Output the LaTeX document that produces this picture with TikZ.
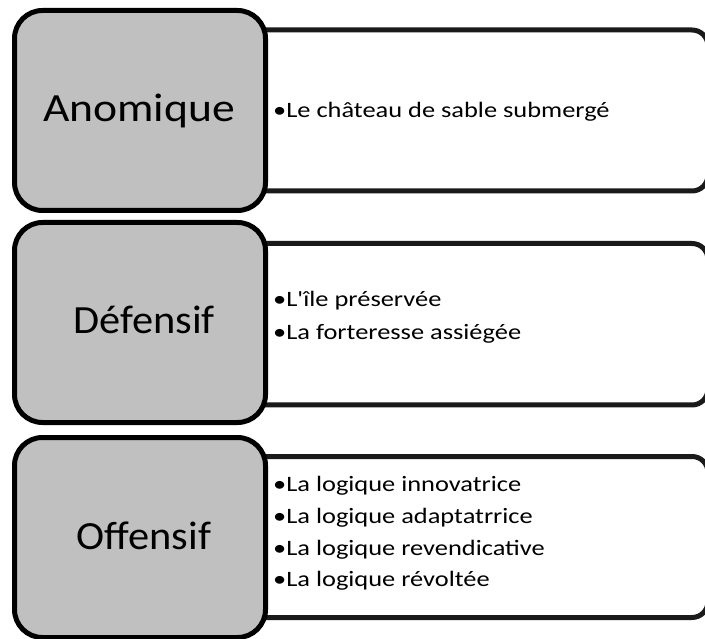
\documentclass[tikz,border=0pt]{standalone}
\usepackage{graphicx}
\usepackage{fontspec}
\setmainfont{Carlito}[Ligatures=TeXOff]
\definecolor{catgray}{HTML}{C0C0C0}
\definecolor{listline}{HTML}{1A1A1A}
\newcommand{\catlbl}[2][1.14]{\scalebox{#1}[1]{#2}}
\newcommand{\itm}[1]{\scalebox{1.2}[1]{#1}}
\begin{document}
\begin{tikzpicture}[x=1pt,y=-1pt,
  catbox/.style={draw=black, line width=5pt, fill=catgray, rounded corners=28pt,
    minimum width=251pt, minimum height=200pt, inner sep=0pt},
  catlabel/.style={anchor=base, inner sep=0pt, font=\fontsize{40}{40}\selectfont},
  listbox/.style={draw=listline, line width=5pt, fill=white, rounded corners=16pt,
    minimum width=468pt, inner sep=0pt},
  itemtext/.style={anchor=base west, inner sep=0pt, font=\fontsize{22}{22}\selectfont}
]
\useasboundingbox (0,0) rectangle (705,639);
% list boxes (behind)
\node[listbox, minimum height=161pt] (l1) at (474,110.5) {};
\node[listbox, minimum height=161.5pt] (l2) at (474,324.25) {};
\node[listbox, minimum height=161pt] (l3) at (474,537) {};
% category boxes
\node[catbox] (c1) at (140,110.5) {};
\node[catbox] (c2) at (140,322.5) {};
\node[catbox] (c3) at (140,537.5) {};
\node[catlabel] (t1) at (139,122) {\catlbl{Anomique}};
\node[catlabel] (t2) at (144,334) {\catlbl[1.06]{Défensif}};
\node[catlabel] (t3) at (144,549) {\catlbl[1.06]{Offensif}};
% items
\node[itemtext] (i11) at (273,118) {\itm{•Le château de sable submergé}};
\node[itemtext] (i21) at (273,307) {\itm{•L'île préservée}};
\node[itemtext] (i22) at (273,340) {\itm{•La forteresse assiégée}};
\node[itemtext] (i31) at (273,491) {\itm{•La logique innovatrice}};
\node[itemtext] (i32) at (273,523) {\itm{•La logique adaptatrrice}};
\node[itemtext] (i33) at (273,555) {\itm{•La logique revendicative}};
\node[itemtext] (i34) at (273,586) {\itm{•La logique révoltée}};
\end{tikzpicture}
\end{document}
